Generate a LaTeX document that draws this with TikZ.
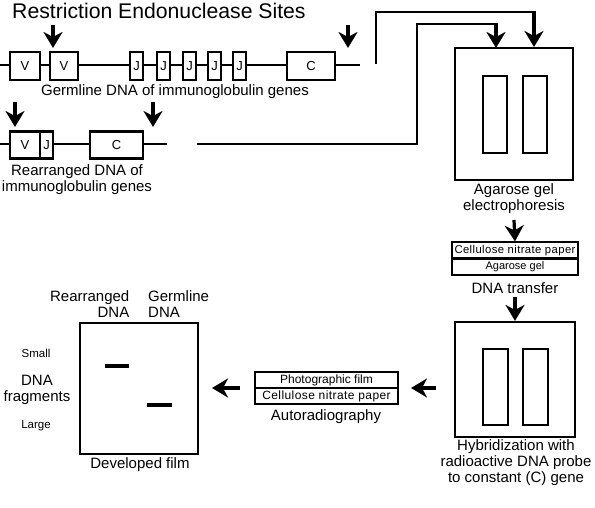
\documentclass[tikz,border=0pt]{standalone}
\usepackage{fontspec}
\setmainfont{Liberation Sans}
\newfontfamily\spacedfont[LetterSpace=3.5]{Liberation Sans}
\usetikzlibrary{arrows.meta}
\newcommand{\fs}[1]{\fontsize{#1}{#1}\selectfont}
\begin{document}
\begin{tikzpicture}[x=1pt,y=-1pt,
  gene/.style={draw,line width=2.4pt,fill=white,minimum height=28pt,inner sep=0pt,font=\fs{13}},
  dna/.style={line width=2.6pt},
  conn/.style={line width=2.8pt},
  arr/.style={line width=3.2pt,-{Stealth[length=16pt,width=19pt,inset=5pt]}},
  gel/.style={draw,line width=2.2pt,inner sep=0pt},
  lane/.style={draw,line width=1.7pt,inner sep=0pt,minimum width=24pt,minimum height=77pt},
  layer/.style={draw,line width=1.7pt,inner sep=0pt,minimum height=16.5pt},
  lbl/.style={inner sep=0pt,align=center,font=\fs{15}},
  small/.style={inner sep=0pt,font=\fs{11.5}},
  band/.style={line width=3.5pt}]
\useasboundingbox (0,0) rectangle (595,507);
% title
\node[inner sep=0pt,anchor=west,font=\fs{21.2}] (title) at (12,11) {Restriction Endonuclease Sites};
% germline DNA
\coordinate (gL) at (0,65);
\coordinate (gR) at (360,65);
\draw[dna] (gL) -- (gR);
\node[gene,minimum width=30pt] (v1) at (25,66) {V};
\node[gene,minimum width=28pt] (v2) at (64,66) {V};
\node[gene,minimum width=13pt] (j1) at (136.5,66) {J};
\node[gene,minimum width=13pt] (j2) at (163.5,66) {J};
\node[gene,minimum width=13pt] (j3) at (189.5,66) {J};
\node[gene,minimum width=13pt] (j4) at (214.5,66) {J};
\node[gene,minimum width=13pt] (j5) at (239.5,66) {J};
\node[gene,minimum width=48pt] (c1) at (311,66) {C};
\node[lbl] (gcap) at (175,92) {Germline DNA of immunoglobulin genes};
\coordinate (a1s) at (53,25); \coordinate (a1e) at (53,48);
\coordinate (a2s) at (348,25); \coordinate (a2e) at (348,48);
\draw[arr] (a1s) -- (a1e);
\draw[arr] (a2s) -- (a2e);
% rearranged DNA
\coordinate (rL) at (0,144);
\coordinate (rR) at (167,144);
\draw[dna] (rL) -- (rR);
\node[gene,minimum width=30pt,minimum height=27pt] (rv) at (25,145) {V};
\node[gene,minimum width=13pt,minimum height=27pt] (rj) at (46.5,145) {J};
\node[gene,minimum width=53pt,minimum height=27pt] (rc) at (116.5,145) {C};
\node[lbl] (rcap) at (77,180) {Rearranged DNA of\\[1pt]immunoglobulin genes};
\coordinate (a3s) at (15,102); \coordinate (a3e) at (15,127);
\coordinate (a4s) at (153,102); \coordinate (a4e) at (153,127);
\draw[arr] (a3s) -- (a3e);
\draw[arr] (a4s) -- (a4e);
% gel
\node[gel,minimum width=118pt,minimum height=132pt] (gelbox) at (514,114) {};
\node[lane] (gl1) at (495,114.5) {};
\node[lane] (gl2) at (535,114.5) {};
\node[lbl] (gelcap) at (514,199) {Agarose gel\\[1pt]electrophoresis};
% connectors
\coordinate (gs) at (376,64);
\coordinate (rs) at (197,144);
\draw[conn] (rs) -- (417,144) -- (417,24) -- (496,24);
\draw[arr] (496,22.6) -- (496,48);
\draw[conn] (gs) -- (376,12) -- (534,12);
\draw[arr] (534,10.6) -- (534,47);
% transfer
\coordinate (t1s) at (514,220);
\node[layer,minimum width=126pt,font=\spacedfont\fs{11.3}] (cnp) at (515,250.5) {Cellulose nitrate paper};
\node[layer,minimum width=126pt,font=\fs{11}] (ag) at (515,266.5) {Agarose gel};
\draw[arr] (t1s) -- (cnp.north);
\node[lbl] (tcap) at (515,288) {DNA transfer};
\coordinate (t2s) at (515,297);
% hybridization
\node[gel,minimum width=120pt,minimum height=115pt] (hyb) at (515,379.5) {};
\node[lane,minimum height=76pt,minimum width=25pt] (hl1) at (495.5,387) {};
\node[lane,minimum height=76pt,minimum width=25pt] (hl2) at (535.5,387) {};
\draw[arr] (t2s) -- (hyb.north);
\node[lbl] (hcap) at (516,463) {Hybridization with\\[1pt]radioactive DNA probe\\[1pt]to constant (C) gene};
% autoradiography
\node[layer,minimum width=143pt,minimum height=16pt,font=\fs{12}] (pf) at (326.5,380) {Photographic film};
\node[layer,minimum width=143pt,minimum height=16pt,font=\spacedfont\fs{12}] (cnp2) at (326.5,396) {Cellulose nitrate paper};
\node[lbl] (acap) at (326,417) {Autoradiography};
\coordinate (a5s) at (436,388); \coordinate (a5e) at (411,388);
\draw[arr] (a5s) -- (a5e);
\coordinate (a6s) at (240,388); \coordinate (a6e) at (212,388);
\draw[arr] (a6s) -- (a6e);
% developed film
\node[gel,minimum width=118pt,minimum height=131pt] (film) at (139,388.5) {};
\coordinate (b1a) at (105,366); \coordinate (b1b) at (129,366);
\coordinate (b2a) at (147,405); \coordinate (b2b) at (172,405);
\draw[band] (b1a) -- (b1b);
\draw[band] (b2a) -- (b2b);
\node[lbl,align=right,anchor=east] (rdna) at (129.5,304) {Rearranged\\[1pt]DNA};
\node[lbl,align=left,anchor=west] (gdna) at (148,304) {Germline\\[1pt]DNA};
\node[small] (sm) at (36,353) {Small};
\node[lbl] (frag) at (37,389.5) {DNA\\[1pt]fragments};
\node[small] (lg) at (36,426) {Large};
\node[lbl] (fcap) at (140,465) {Developed film};
\end{tikzpicture}
\end{document}
